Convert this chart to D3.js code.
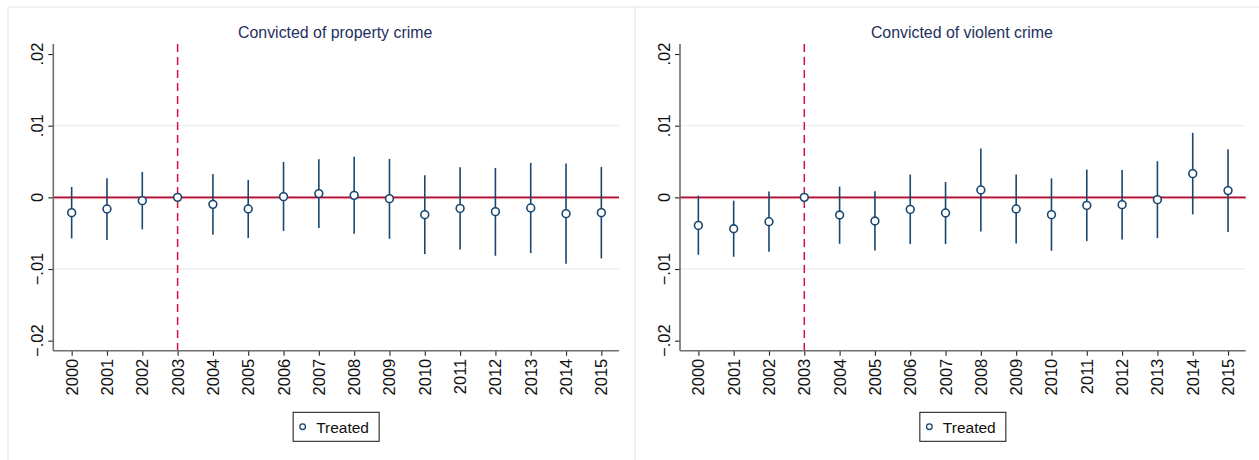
<!DOCTYPE html>
<html>
<head>
<meta charset="utf-8">
<script src="https://cdn.jsdelivr.net/npm/d3@7"></script>
<style>
  html, body { margin: 0; padding: 0; background: #fff; }
  svg { display: block; font-family: "Liberation Sans", Arial, Helvetica, sans-serif; }
</style>
</head>
<body>
<svg id="chart" width="1259" height="460"></svg>
<script>
// Event-study coefficients with 95% confidence intervals (reference year 2003)
const years = [2000, 2001, 2002, 2003, 2004, 2005, 2006, 2007, 2008, 2009, 2010, 2011, 2012, 2013, 2014, 2015];

const propertyCoef = [-0.00214, -0.00162, -0.00046, 0, -0.00098, -0.00162, 0.00010, 0.00052, 0.00028, -0.00018, -0.00242, -0.00154, -0.00200, -0.00148, -0.00228, -0.00214];
const propertyLo   = [-0.00573, -0.00596, -0.00447, null, -0.00522, -0.00568, -0.00470, -0.00428, -0.00508, -0.00578, -0.00792, -0.00727, -0.00815, -0.00778, -0.00927, -0.00853];
const propertyHi   = [ 0.00145,  0.00266,  0.00355, null,  0.00327,  0.00243,  0.00495,  0.00532,  0.00565,  0.00537,  0.00308,  0.00420,  0.00411,  0.00481,  0.00471,  0.00425];

const violentCoef = [-0.00392, -0.00438, -0.00340, 0, -0.00246, -0.00330, -0.00168, -0.00218, 0.00103, -0.00162, -0.00242, -0.00112, -0.00102, -0.00032, 0.00331, 0.00094];
const violentLo   = [-0.00801, -0.00829, -0.00760, null, -0.00648, -0.00740, -0.00652, -0.00652, -0.00475, -0.00643, -0.00746, -0.00610, -0.00587, -0.00568, -0.00238, -0.00484];
const violentHi   = [ 0.00024, -0.00046,  0.00080, null,  0.00150,  0.00084,  0.00318,  0.00215,  0.00681,  0.00318,  0.00266,  0.00387,  0.00383,  0.00504,  0.00900,  0.00671];

const yTicks = [-0.02, -0.01, 0, 0.01, 0.02];
const yTickLabels = ["\u2212.02", "\u2212.01", "0", ".01", ".02"];
const gridValues = [-0.01, 0.01];
const treatYear = 2003;
const titles = ["Convicted of property crime", "Convicted of violent crime"];
const legendLabel = "Treated";

const panels = [
  { title: titles[0], coef: propertyCoef, lo: propertyLo, hi: propertyHi },
  { title: titles[1], coef: violentCoef, lo: violentLo, hi: violentHi }
];

const navy = "#1a476f";
const svg = d3.select("#chart");

// Panel frames
const frameW = 627;
panels.forEach((p, i) => {
  svg.append("rect")
    .attr("x", 8 + i * frameW).attr("y", 7)
    .attr("width", frameW).attr("height", 470)
    .attr("fill", "#fff").attr("stroke", "#e4ecef").attr("stroke-width", 1.3);
});

function drawPanel(p, i) {
  const left = 53.3 + i * 626.7;
  const plotW = 565.7, top = 44, bottom = 350.7;
  const g = svg.append("g");

  const x = d3.scaleLinear().domain([1999.48, 2015.5]).range([left, left + plotW]);
  const y = d3.scaleLinear().domain([-0.0214, 0.0214]).range([bottom, top]);

  // Title
  g.append("text")
    .attr("x", left + plotW / 2 - 1).attr("y", 32)
    .attr("text-anchor", "middle").attr("dominant-baseline", "central")
    .attr("font-size", 15.9).attr("fill", "#1f3060")
    .text(p.title);

  // Gridlines
  g.selectAll(".grid").data(gridValues).enter().append("line")
    .attr("x1", left).attr("x2", left + plotW)
    .attr("y1", d => y(d)).attr("y2", d => y(d))
    .attr("stroke", "#eaf1f2").attr("stroke-width", 1.3);

  // Zero reference line
  g.append("line")
    .attr("x1", left).attr("x2", left + plotW)
    .attr("y1", y(0)).attr("y2", y(0))
    .attr("stroke", "#ad0f30").attr("stroke-width", 1.6);
  g.append("line")
    .attr("x1", left).attr("x2", left + plotW)
    .attr("y1", y(0) + 1.3).attr("y2", y(0) + 1.3)
    .attr("stroke", "#e58aa0").attr("stroke-width", 0.8);

  // Treatment year marker
  g.append("line")
    .attr("x1", x(treatYear)).attr("x2", x(treatYear))
    .attr("y1", top).attr("y2", bottom)
    .attr("stroke", "#d8103f").attr("stroke-width", 1.5)
    .attr("stroke-dasharray", "8,5");

  // Y axis
  const yAxis = d3.axisLeft(y).tickValues(yTicks)
    .tickFormat((d, k) => yTickLabels[k]).tickSize(5).tickPadding(0);
  const ya = g.append("g").attr("transform", `translate(${left},0)`).call(yAxis);
  ya.select(".domain").remove();
  ya.selectAll(".tick line").attr("stroke", "#222").attr("stroke-width", 1.1);
  ya.selectAll(".tick text").remove();
  g.selectAll(".ylab").data(yTicks).enter().append("text")
    .attr("transform", d => `translate(${left - 16},${y(d)}) rotate(-90)`)
    .attr("text-anchor", "middle").attr("dominant-baseline", "central")
    .attr("font-size", 16.5).attr("fill", "#111")
    .text((d, k) => yTickLabels[k]);
  g.append("line")
    .attr("x1", left).attr("x2", left).attr("y1", top).attr("y2", bottom)
    .attr("stroke", "#6e6e6e").attr("stroke-width", 1.6);

  // X axis
  const xAxis = d3.axisBottom(x).tickValues(years).tickFormat(d3.format("d")).tickSize(5);
  const xa = g.append("g").attr("transform", `translate(0,${bottom})`).call(xAxis);
  xa.select(".domain").remove();
  xa.selectAll(".tick line").attr("stroke", "#222").attr("stroke-width", 1.1);
  xa.selectAll(".tick text").remove();
  g.selectAll(".xlab").data(years).enter().append("text")
    .attr("transform", d => `translate(${x(d)},${bottom + 8}) rotate(-90)`)
    .attr("text-anchor", "end").attr("dominant-baseline", "central")
    .attr("font-size", 16.5).attr("fill", "#111")
    .text(d => d);
  g.append("line")
    .attr("x1", left).attr("x2", left + plotW).attr("y1", bottom).attr("y2", bottom)
    .attr("stroke", "#6e6e6e").attr("stroke-width", 1.6);

  // Confidence intervals
  const rows = years.map((yr, k) => ({ yr, c: p.coef[k], lo: p.lo[k], hi: p.hi[k] }));
  g.selectAll(".ci").data(rows.filter(r => r.lo !== null)).enter().append("line")
    .attr("x1", d => x(d.yr)).attr("x2", d => x(d.yr))
    .attr("y1", d => y(d.lo)).attr("y2", d => y(d.hi))
    .attr("stroke", navy).attr("stroke-width", 1.6);

  // Point estimates
  g.selectAll(".pt").data(rows).enter().append("circle")
    .attr("cx", d => x(d.yr)).attr("cy", d => y(d.c)).attr("r", 3.9)
    .attr("fill", "#fff").attr("stroke", navy).attr("stroke-width", 1.6);

  // Legend
  const lx = left + plotW / 2 - 43, ly = 412.3;
  g.append("rect").attr("x", lx).attr("y", ly).attr("width", 86).attr("height", 29)
    .attr("fill", "#fff").attr("stroke", "#111").attr("stroke-width", 1);
  g.append("circle").attr("cx", lx + 9.5).attr("cy", ly + 14.4).attr("r", 2.8)
    .attr("fill", "#fff").attr("stroke", navy).attr("stroke-width", 1.3);
  g.append("text").attr("x", lx + 23).attr("y", ly + 15)
    .attr("dominant-baseline", "central").attr("font-size", 15.5).attr("fill", "#111")
    .text(legendLabel);
}

panels.forEach(drawPanel);
</script>
</body>
</html>
